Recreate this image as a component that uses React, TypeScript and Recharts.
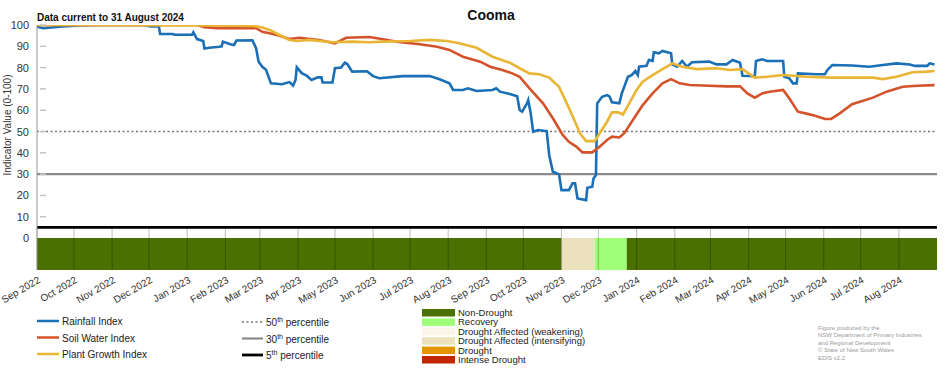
import { Line, LineChart, ReferenceArea, ReferenceLine, XAxis, YAxis } from "recharts";

const rainDates = [
  "2022-09-01", "2022-09-06", "2022-09-22", "2022-10-06", "2022-10-22", "2022-11-27", "2022-12-02", "2022-12-09",
  "2022-12-10", "2022-12-20", "2022-12-22", "2023-01-05", "2023-01-06", "2023-01-09", "2023-01-14", "2023-01-15",
  "2023-01-19", "2023-01-27", "2023-01-29", "2023-01-30", "2023-02-05", "2023-02-08", "2023-02-10", "2023-02-23",
  "2023-02-26", "2023-02-28", "2023-03-03", "2023-03-06", "2023-03-10", "2023-03-19", "2023-03-25", "2023-03-28",
  "2023-03-30", "2023-03-31", "2023-04-04", "2023-04-08", "2023-04-12", "2023-04-17", "2023-04-20", "2023-04-21",
  "2023-04-29", "2023-05-01", "2023-05-06", "2023-05-09", "2023-05-11", "2023-05-15", "2023-05-27", "2023-06-01",
  "2023-06-06", "2023-06-25", "2023-07-17", "2023-07-25", "2023-08-02", "2023-08-05", "2023-08-13", "2023-08-17",
  "2023-08-24", "2023-09-06", "2023-09-09", "2023-09-12", "2023-09-20", "2023-09-26", "2023-09-28", "2023-09-30",
  "2023-10-04", "2023-10-05", "2023-10-07", "2023-10-09", "2023-10-13", "2023-10-20", "2023-10-22", "2023-10-25",
  "2023-10-30", "2023-11-01", "2023-11-07", "2023-11-10", "2023-11-12", "2023-11-14", "2023-11-21", "2023-11-22",
  "2023-11-26", "2023-11-27", "2023-11-29", "2023-11-30", "2023-12-04", "2023-12-08", "2023-12-10", "2023-12-12",
  "2023-12-18", "2023-12-20", "2023-12-25", "2023-12-28", "2023-12-31", "2024-01-02", "2024-01-03", "2024-01-09",
  "2024-01-11", "2024-01-14", "2024-01-15", "2024-01-19", "2024-01-22", "2024-01-29", "2024-01-30", "2024-02-03",
  "2024-02-07", "2024-02-11", "2024-02-15", "2024-02-29", "2024-03-06", "2024-03-14", "2024-03-19", "2024-03-25",
  "2024-03-27", "2024-04-06", "2024-04-07", "2024-04-12", "2024-04-16", "2024-04-29", "2024-04-30", "2024-05-04",
  "2024-05-07", "2024-05-10", "2024-05-11", "2024-05-26", "2024-06-02", "2024-06-04", "2024-06-08", "2024-06-24",
  "2024-07-08", "2024-07-19", "2024-07-30", "2024-08-10", "2024-08-14", "2024-08-24", "2024-08-26", "2024-08-30",
];
const rainValues = [
  99.2, 98.5, 99.3, 99.8, 100, 100, 99.3, 99.3,
  95.8, 95.8, 95.4, 95.4, 96.6, 93.4, 92.5, 89,
  89.3, 89.8, 90, 92.2, 91, 90.6, 92.7, 92.8,
  89, 82.8, 80.4, 79, 72.6, 72.2, 73.2, 71.6,
  74.2, 80.2, 77.4, 76.2, 74.2, 75.4, 75.4, 73,
  73, 79.7, 80, 82.3, 81.7, 78.1, 78.3, 76,
  75, 76, 76, 74.5, 72.6, 69.5, 69.5, 70.3,
  69, 69.5, 70.3, 68.7, 67.6, 66.5, 60.1, 59.3,
  63.2, 64.8, 58.5, 49.9, 50.7, 50.2, 39, 31.1,
  29.9, 22.5, 22.5, 25.7, 25.7, 18.6, 17.8, 23.6,
  24.1, 28, 29.6, 63.2, 66.3, 67.1, 66.5, 63.7,
  63.2, 67.9, 75.7, 76.5, 78.4, 76.5, 80.4, 80.8,
  83.6, 83.2, 87.2, 86.7, 87.8, 86.7, 81.5, 80.4,
  83.1, 80.4, 82.5, 82.8, 81.5, 81.5, 83.6, 82.3,
  76.2, 76, 83.1, 83.9, 83.1, 83.1, 75.7, 75,
  72.6, 72.6, 77.3, 76.9, 76.9, 78.9, 81.2, 81,
  80.4, 81.2, 82, 81.5, 80.8, 80.8, 82, 81.5,
];

const soilDates = [
  "2022-09-01", "2023-01-09", "2023-01-15", "2023-01-25", "2023-02-26", "2023-03-03", "2023-03-09", "2023-03-17",
  "2023-03-25", "2023-04-02", "2023-04-18", "2023-05-01", "2023-05-10", "2023-05-29", "2023-06-09", "2023-06-23",
  "2023-07-09", "2023-07-23", "2023-08-02", "2023-08-13", "2023-08-27", "2023-09-04", "2023-09-14", "2023-09-22",
  "2023-09-28", "2023-10-06", "2023-10-17", "2023-10-25", "2023-11-02", "2023-11-07", "2023-11-13", "2023-11-18",
  "2023-11-26", "2023-12-02", "2023-12-08", "2023-12-12", "2023-12-18", "2023-12-22", "2023-12-29", "2024-01-06",
  "2024-01-14", "2024-01-22", "2024-01-29", "2024-02-05", "2024-02-13", "2024-02-29", "2024-03-14", "2024-03-25",
  "2024-03-31", "2024-04-06", "2024-04-12", "2024-04-18", "2024-04-29", "2024-05-04", "2024-05-11", "2024-05-18",
  "2024-05-25", "2024-06-02", "2024-06-07", "2024-06-14", "2024-06-24", "2024-07-11", "2024-07-22", "2024-08-04",
  "2024-08-16", "2024-08-30",
];
const soilValues = [
  100, 100, 99, 98.5, 98.5, 96.8, 96.1, 95,
  93.4, 94, 93, 91.4, 94, 94.4, 93.3, 91.9,
  91, 89.8, 88.3, 85.1, 82.8, 80.4, 78.9, 77.3,
  75.7, 70.3, 63.2, 56.2, 48.4, 45.2, 42.9, 40.2,
  40.2, 42.9, 46, 47.6, 47.2, 49.2, 55.4, 62.4,
  67.9, 72.6, 74.6, 72.6, 71.8, 71.5, 71.2, 71.2,
  67.9, 65.9, 67.9, 68.7, 69.5, 65.6, 59.3, 58.4,
  57.4, 55.9, 55.9, 58.5, 62.8, 65.9, 68.7, 71,
  71.5, 71.8,
];

const plantDates = [
  "2022-09-01", "2023-01-15", "2023-02-24", "2023-03-03", "2023-03-09", "2023-03-17", "2023-03-25", "2023-03-31",
  "2023-04-10", "2023-04-29", "2023-05-15", "2023-05-29", "2023-06-09", "2023-07-01", "2023-07-17", "2023-07-31",
  "2023-08-10", "2023-08-24", "2023-09-06", "2023-09-20", "2023-09-28", "2023-10-06", "2023-10-14", "2023-10-22",
  "2023-10-30", "2023-11-06", "2023-11-12", "2023-11-16", "2023-11-21", "2023-11-28", "2023-12-02", "2023-12-08",
  "2023-12-12", "2023-12-17", "2023-12-21", "2023-12-26", "2024-01-01", "2024-01-06", "2024-01-14", "2024-01-22",
  "2024-01-30", "2024-02-07", "2024-02-19", "2024-03-06", "2024-03-17", "2024-03-27", "2024-04-06", "2024-04-16",
  "2024-04-29", "2024-05-18", "2024-06-06", "2024-07-11", "2024-07-19", "2024-07-30", "2024-08-12", "2024-08-24",
  "2024-08-30",
];
const plantValues = [
  100, 99.8, 99.5, 98.8, 97.7, 95.3, 93, 92.5,
  93, 91.9, 92.2, 91.9, 92.2, 92.5, 93, 92.5,
  91.4, 89.3, 85.1, 82.3, 79.7, 77.3, 76.9, 75.3,
  71, 62.4, 54.6, 49.2, 45.5, 45.5, 49.2, 54.6,
  59, 59, 58, 63.2, 69.5, 73.4, 76.5, 79.3,
  82, 80.4, 79.3, 79.7, 78.9, 79.3, 75.3, 75.7,
  76.5, 75.7, 75.3, 75.3, 74.6, 75.7, 77.8, 78.1,
  78.4,
];

const seriesNames = ["Rainfall Index", "Soil Water Index", "Plant Growth Index"];
const seriesColors = ["#1a6fb7", "#d4532a", "#e9b535"];

const percentileValues = [50, 30, 5];
const percentileNames = ["50", "30", "5"];

const monthTicks = [
  "2022-09-01", "2022-10-01", "2022-11-01", "2022-12-01", "2023-01-01", "2023-02-01", "2023-03-01", "2023-04-01",
  "2023-05-01", "2023-06-01", "2023-07-01", "2023-08-01", "2023-09-01", "2023-10-01", "2023-11-01", "2023-12-01",
  "2024-01-01", "2024-02-01", "2024-03-01", "2024-04-01", "2024-05-01", "2024-06-01", "2024-07-01", "2024-08-01",
];
const yTicks = [0, 10, 20, 30, 40, 50, 60, 70, 80, 90, 100];

const statusNames = [
  "Non-Drought",
  "Recovery",
  "Drought Affected (weakening)",
  "Drought Affected (intensifying)",
  "Drought",
  "Intense Drought",
];
const statusColors = ["#4a7000", "#a0ff78", "#fdf4e8", "#ece1bd", "#e39500", "#c02700"];

const bandStarts = ["2022-09-01", "2023-11-01", "2023-11-28", "2023-12-24"];
const bandEnds = ["2023-11-01", "2023-11-28", "2023-12-24", "2024-09-01"];
const bandStatus = ["Non-Drought", "Drought Affected (intensifying)", "Recovery", "Non-Drought"];

const footnote = [
  "Figure produced by the",
  "NSW Department of Primary Industries",
  "and Regional Development",
  "\u00a9 State of New South Wales",
  "EDIS v2.2",
];

const MONTHS = ["Jan", "Feb", "Mar", "Apr", "May", "Jun", "Jul", "Aug", "Sep", "Oct", "Nov", "Dec"];
const FONT = "'Liberation Sans', Arial, sans-serif";

const ts = (s: string) => Date.UTC(+s.slice(0, 4), +s.slice(5, 7) - 1, +s.slice(8, 10));
const toPoints = (dates: string[], values: number[]) => dates.map((d, i) => ({ t: ts(d), v: values[i] }));

const series = [
  toPoints(rainDates, rainValues),
  toPoints(soilDates, soilValues),
  toPoints(plantDates, plantValues),
];
const tickStamps = monthTicks.map(ts);
const X_MIN = ts("2022-09-01");
const X_MAX = ts("2024-09-01");
const BAND_BOTTOM = -15;

const fmtMonth = (t: number) => {
  const d = new Date(t);
  return `${MONTHS[d.getUTCMonth()]} ${d.getUTCFullYear()}`;
};

const XTick = (props: any) => {
  const { x, y, payload } = props;
  const tx = x + 4;
  const ty = y + 12;
  return (
    <text
      x={tx}
      y={ty}
      transform={`rotate(-30 ${tx} ${ty})`}
      textAnchor="end"
      fontSize={10}
      fontFamily={FONT}
      fill="#333"
    >
      {fmtMonth(payload.value)}
    </text>
  );
};

const YTick = (props: any) => {
  const { x, y, payload } = props;
  return (
    <g>
      <text x={x} y={y} dy={4} textAnchor="end" fontSize={11} fontFamily={FONT} fill="#333">
        {payload.value}
      </text>
      {payload.value > 0 && <line x1={x + 11} x2={x + 17} y1={y} y2={y} stroke="#c4c4c4" strokeWidth={1.5} />}
    </g>
  );
};

const percentileStyle = [
  { stroke: "#777", strokeWidth: 1.6, strokeDasharray: "2 2.5" },
  { stroke: "#8a8a8a", strokeWidth: 2.2 },
  { stroke: "#000", strokeWidth: 2.8 },
];

export default function App() {
  return (
    <div style={{ position: "absolute", left: 0, top: 0, width: 952, height: 370, background: "#fff" }}>
      <LineChart
        width={952}
        height={312}
        margin={{ top: 25, right: 15, bottom: 0, left: 0 }}
        style={{ position: "absolute", left: 0, top: 0 }}
      >
        <XAxis
          dataKey="t"
          type="number"
          scale="time"
          domain={[X_MIN, X_MAX]}
          ticks={tickStamps}
          allowDataOverflow
          axisLine={false}
          tickLine={false}
          tickSize={0}
          tickMargin={0}
          height={42}
          interval={0}
          tick={<XTick />}
        />
        <YAxis
          type="number"
          domain={[BAND_BOTTOM, 100]}
          ticks={yTicks}
          allowDataOverflow
          width={37}
          tickSize={0}
          tickMargin={8}
          tickLine={false}
          axisLine={{ stroke: "#999", strokeWidth: 1 }}
          tick={<YTick />}
          interval={0}
        />
        {bandStarts.map((s, i) => (
          <ReferenceArea
            key={`band-${i}`}
            x1={ts(s)}
            x2={ts(bandEnds[i])}
            y1={BAND_BOTTOM}
            y2={0}
            fill={statusColors[statusNames.indexOf(bandStatus[i])]}
            fillOpacity={1}
            stroke="none"
          />
        ))}
        {tickStamps.map((t) => (
          <ReferenceLine
            key={`grid-${t}`}
            segment={[
              { x: t, y: 5 },
              { x: t, y: BAND_BOTTOM },
            ]}
            stroke="#000"
            strokeOpacity={0.22}
            strokeWidth={1.2}
          />
        ))}
        {percentileValues.map((p, i) => (
          <ReferenceLine key={`pct-${p}`} y={p} {...percentileStyle[i]} />
        ))}
        {series.map((data, i) => (
          <Line
            key={seriesNames[i]}
            data={data}
            dataKey="v"
            name={seriesNames[i]}
            type="linear"
            stroke={seriesColors[i]}
            strokeWidth={2.6}
            dot={false}
            activeDot={false}
            isAnimationActive={false}
          />
        ))}
      </LineChart>
      <svg
        width={952}
        height={370}
        style={{ position: "absolute", left: 0, top: 0, pointerEvents: "none" }}
        fontFamily={FONT}
      >
        <text x={491} y={20} textAnchor="middle" fontSize={14} fontWeight="bold" fill="#111">
          Cooma
        </text>
        <text x={37} y={21} fontSize={10} fontWeight="bold" fill="#111">
          Data current to 31 August 2024
        </text>
        <text transform="translate(11 125) rotate(-90)" textAnchor="middle" fontSize={10} fill="#333">
          Indicator Value (0-100)
        </text>
        {seriesNames.map((n, i) => (
          <g key={n}>
            <line x1={37} x2={59} y1={321 + i * 16.5} y2={321 + i * 16.5} stroke={seriesColors[i]} strokeWidth={2.5} />
            <text x={62} y={325 + i * 16.5} fontSize={10} fill="#222">
              {n}
            </text>
          </g>
        ))}
        {percentileNames.map((n, i) => (
          <g key={`pl-${n}`}>
            <line x1={242} x2={263} y1={322 + i * 16.5} y2={322 + i * 16.5} {...percentileStyle[i]} />
            <text x={266} y={326 + i * 16.5} fontSize={10} fill="#222">
              <tspan>{n}</tspan>
              <tspan dy={-4} fontSize={7}>
                th
              </tspan>
              <tspan dy={4}> percentile</tspan>
            </text>
          </g>
        ))}
        {statusNames.map((n, i) => (
          <g key={n}>
            <rect x={422} y={309 + i * 9.4} width={33} height={7.5} fill={statusColors[i]} />
            <text x={458} y={316 + i * 9.4} fontSize={9.5} fill="#222">
              {n}
            </text>
          </g>
        ))}
        {footnote.map((l, i) => (
          <text key={l} x={818} y={330 + i * 7.4} fontSize={6} fill="#999">
            {l}
          </text>
        ))}
      </svg>
    </div>
  );
}
